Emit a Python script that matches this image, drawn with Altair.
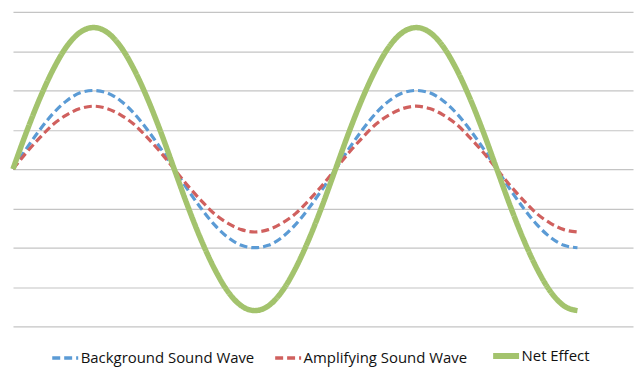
import altair as alt
import pandas as pd

# Phase angle (degrees), sampled every 15 degrees
angle = [0, 15, 30, 45, 60, 75, 90, 105, 120, 135, 150, 165, 180, 195, 210, 225, 240, 255, 270,
         285, 300, 315, 330, 345, 360, 375, 390, 405, 420, 435, 450, 465, 480, 495, 510, 525, 540,
         555, 570, 585, 600, 615, 630]

background = [0, 0.26, 0.5, 0.71, 0.87, 0.97, 1.0, 0.97, 0.87, 0.71, 0.5, 0.26, 0,
              -0.26, -0.5, -0.71, -0.87, -0.97, -1.0, -0.97, -0.87, -0.71, -0.5, -0.26, 0,
              0.26, 0.5, 0.71, 0.87, 0.97, 1.0, 0.97, 0.87, 0.71, 0.5, 0.26, 0,
              -0.26, -0.5, -0.71, -0.87, -0.97, -1.0]

amplifying = [0, 0.21, 0.4, 0.57, 0.69, 0.77, 0.8, 0.77, 0.69, 0.57, 0.4, 0.21, 0,
              -0.21, -0.4, -0.57, -0.69, -0.77, -0.8, -0.77, -0.69, -0.57, -0.4, -0.21, 0,
              0.21, 0.4, 0.57, 0.69, 0.77, 0.8, 0.77, 0.69, 0.57, 0.4, 0.21, 0,
              -0.21, -0.4, -0.57, -0.69, -0.77, -0.8]

net_effect = [0, 0.47, 0.9, 1.27, 1.56, 1.74, 1.8, 1.74, 1.56, 1.27, 0.9, 0.47, 0,
              -0.47, -0.9, -1.27, -1.56, -1.74, -1.8, -1.74, -1.56, -1.27, -0.9, -0.47, 0,
              0.47, 0.9, 1.27, 1.56, 1.74, 1.8, 1.74, 1.56, 1.27, 0.9, 0.47, 0,
              -0.47, -0.9, -1.27, -1.56, -1.74, -1.8]

series_names = ["Background Sound Wave", "Amplifying Sound Wave", "Net Effect"]
series_values = [background, amplifying, net_effect]
colors = ["#5B9BD5", "#D0605E", "#A3C36D"]
widths = [3.2, 3.2, 5.5]
dashes = [[8, 4], [8, 4], [1, 0]]
y_ticks = [-2, -1.5, -1, -0.5, 0, 0.5, 1, 1.5, 2]

rows = []
for name, vals, w in zip(series_names, series_values, widths):
    for a, v in zip(angle, vals):
        rows.append({"angle": a, "value": v, "series": name, "w": w})
df = pd.DataFrame(rows)

legend = alt.Legend(
    title=None,
    orient="none",
    direction="horizontal",
    legendX=45,
    legendY=338,
    symbolType="stroke",
    symbolSize=680,
    symbolStrokeWidth={"expr": "datum.label === 'Net Effect' ? 6 : 3.5"},
    labelFont="Open Sans",
    labelFontSize=15,
    labelLimit=400,
    labelColor="#111111",
    labelOffset=8,
    columnPadding=13,
)

chart = alt.Chart(df).mark_line(strokeCap="butt", strokeJoin="round", interpolate="monotone").encode(
    x=alt.X("angle:Q", scale=alt.Scale(domain=[0, 692], nice=False, zero=False), axis=None),
    y=alt.Y("value:Q", scale=alt.Scale(domain=[-2, 2], nice=False),
            axis=alt.Axis(values=y_ticks, labels=False, ticks=False, domain=False, title=None,
                          grid=True, gridColor="#C4C4C4", gridWidth=1.2)),
    color=alt.Color("series:N", scale=alt.Scale(domain=series_names, range=colors), legend=legend),
    strokeDash=alt.StrokeDash("series:N", scale=alt.Scale(domain=series_names, range=dashes), legend=None),
    strokeWidth=alt.StrokeWidth("w:Q", scale=None, legend=None),
    order=alt.Order("angle:Q"),
).properties(
    width=623,
    height=316,
    padding={"left": 2, "top": 3, "right": 1, "bottom": 0},
).configure_view(stroke=None)

chart.save("out.html", embed_options={"renderer": "svg", "actions": False})
